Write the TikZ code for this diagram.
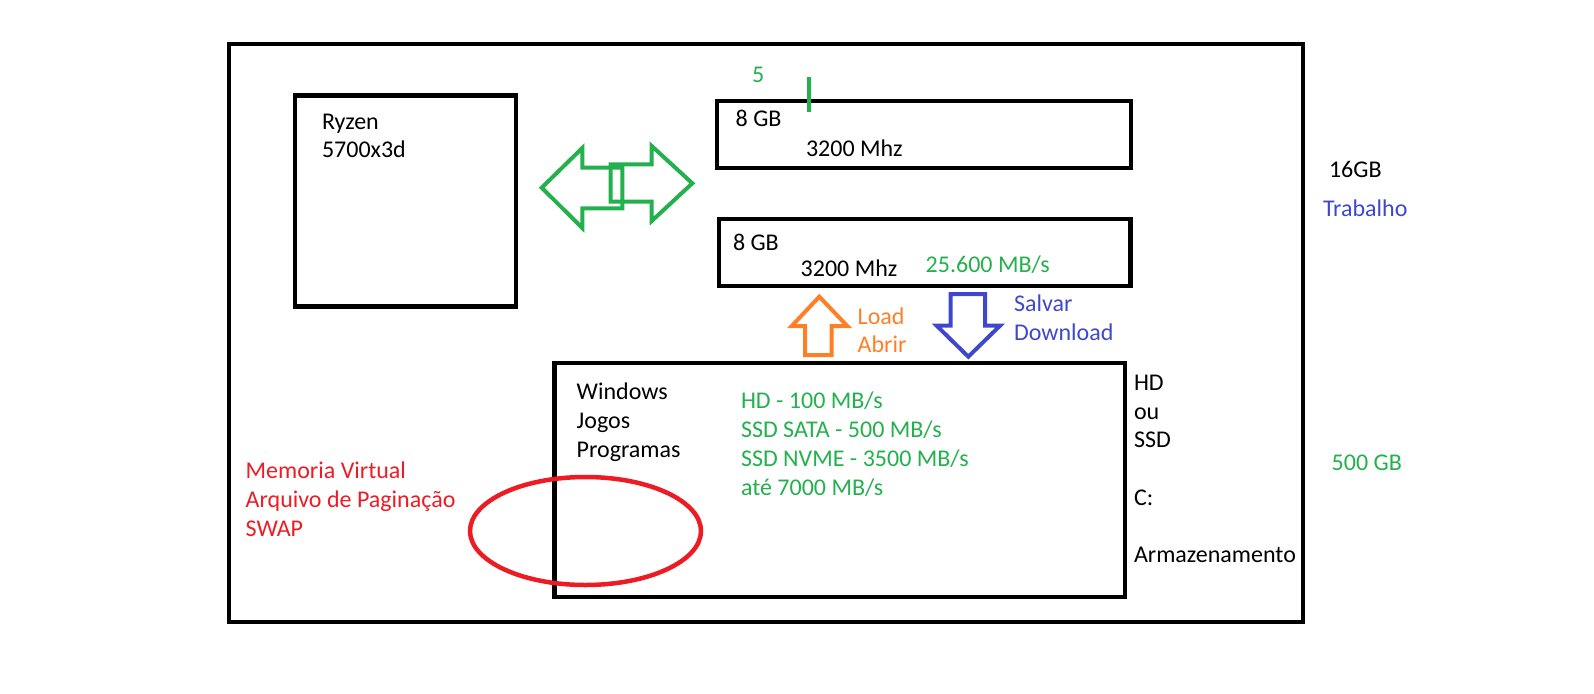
\documentclass[tikz,border=0pt]{standalone}
\usepackage{fontspec}
\setmainfont{Carlito}
\definecolor{pgreen}{HTML}{22B14C}
\definecolor{pred}{HTML}{ED1C24}
\definecolor{porange}{HTML}{FF7F27}
\definecolor{pblue}{HTML}{3F48CC}
\tikzset{
  box/.style={draw=black, line width=4.3pt, line join=miter},
  lbl/.style={anchor=base west, inner sep=0pt, outer sep=0pt, font=\fontsize{24}{28}\selectfont},
  blockarrow/.style={line width=4pt, line join=miter},
}
\begin{document}
\begin{tikzpicture}[x=1pt, y=-1pt]
\useasboundingbox (0,0) rectangle (1594,693);
% boxes
\draw[box] (229,44) rectangle (1303,622);
\draw[box] (294.7,95.5) rectangle (516,306.5);
\draw[box] (717,101) rectangle (1131,168);
\draw[box] (719,219) rectangle (1130.5,286);
\draw[box] (554.5,363) rectangle (1125,597);
% green tick
\draw[pgreen, line width=4pt] (809.3,77) -- (809.3,112);
% green double arrow
\draw[pgreen, blockarrow] (541.7,187.7) -- (582.3,148) -- (582.3,167.7) -- (622.3,167.7) -- (622.3,208.3) -- (582.3,208.3) -- (582.3,228) -- cycle;
\draw[pgreen, blockarrow] (610.7,164.3) -- (651.7,164.3) -- (651.7,146) -- (692.3,183.3) -- (651.7,221) -- (651.7,201.7) -- (610.7,201.7) -- cycle;
% orange up arrow
\draw[porange, blockarrow] (819.3,296.7) -- (847.3,326) -- (831.7,326) -- (831.7,355) -- (805,355) -- (805,326) -- (791.7,326) -- cycle;
% blue down arrow
\draw[pblue, blockarrow] (950.7,294) -- (985,294) -- (985,325.7) -- (1000,325.7) -- (968.3,356.7) -- (936.7,325.7) -- (950.7,325.7) -- cycle;
% red ellipse
\draw[pred, line width=4.5pt] (585.5,531) ellipse [x radius=115.5, y radius=54];
% texts
\node[lbl] (cpu1) at (322,129) {Ryzen};
\node[lbl] (cpu2) at (322,157) {5700x3d};
\node[lbl, text=pgreen] (five) at (752,82.7) {5};
\node[lbl] (r1a) at (735.7,126.7) {8 GB};
\node[lbl] (r1b) at (806,156.7) {3200 Mhz};
\node[lbl] (r2a) at (733,250.7) {8 GB};
\node[lbl] (r2b) at (800.7,276.7) {3200 Mhz};
\node[lbl, text=pgreen] (r2c) at (925.7,272.7) {25.600 MB/s};
\node[lbl, text=porange] (ld) at (857.7,324) {Load};
\node[lbl, text=porange] (ab) at (857.7,352.3) {Abrir};
\node[lbl, text=pblue] (sv) at (1014,311.7) {Salvar};
\node[lbl, text=pblue] (dl) at (1014,340) {Download};
\node[lbl] (w1) at (576.7,399.3) {Windows};
\node[lbl] (w2) at (576.7,428.3) {Jogos};
\node[lbl] (w3) at (576.7,457.3) {Programas};
\node[lbl, text=pgreen] (s1) at (741,408.3) {HD - 100 MB/s};
\node[lbl, text=pgreen] (s2) at (741,437.3) {SSD SATA - 500 MB/s};
\node[lbl, text=pgreen] (s3) at (741,466) {SSD NVME - 3500 MB/s};
\node[lbl, text=pgreen] (s4) at (741,495) {até 7000 MB/s};
\node[lbl] (h1) at (1134,390) {HD};
\node[lbl] (h2) at (1134,419) {ou};
\node[lbl] (h3) at (1134,447.7) {SSD};
\node[lbl] (h4) at (1134,505) {C:};
\node[lbl] (h5) at (1134,562.6) {Armazenamento};
\node[lbl] (g16) at (1329,177) {16GB};
\node[lbl, text=pblue] (trab) at (1323,216) {Trabalho};
\node[lbl, text=pgreen] (g500) at (1331.7,470.7) {500 GB};
\node[lbl, text=pred] (m1) at (245.7,478) {Memoria Virtual};
\node[lbl, text=pred] (m2) at (245.7,507) {Arquivo de Paginação};
\node[lbl, text=pred] (m3) at (245.7,536) {SWAP};
\end{tikzpicture}
\end{document}
